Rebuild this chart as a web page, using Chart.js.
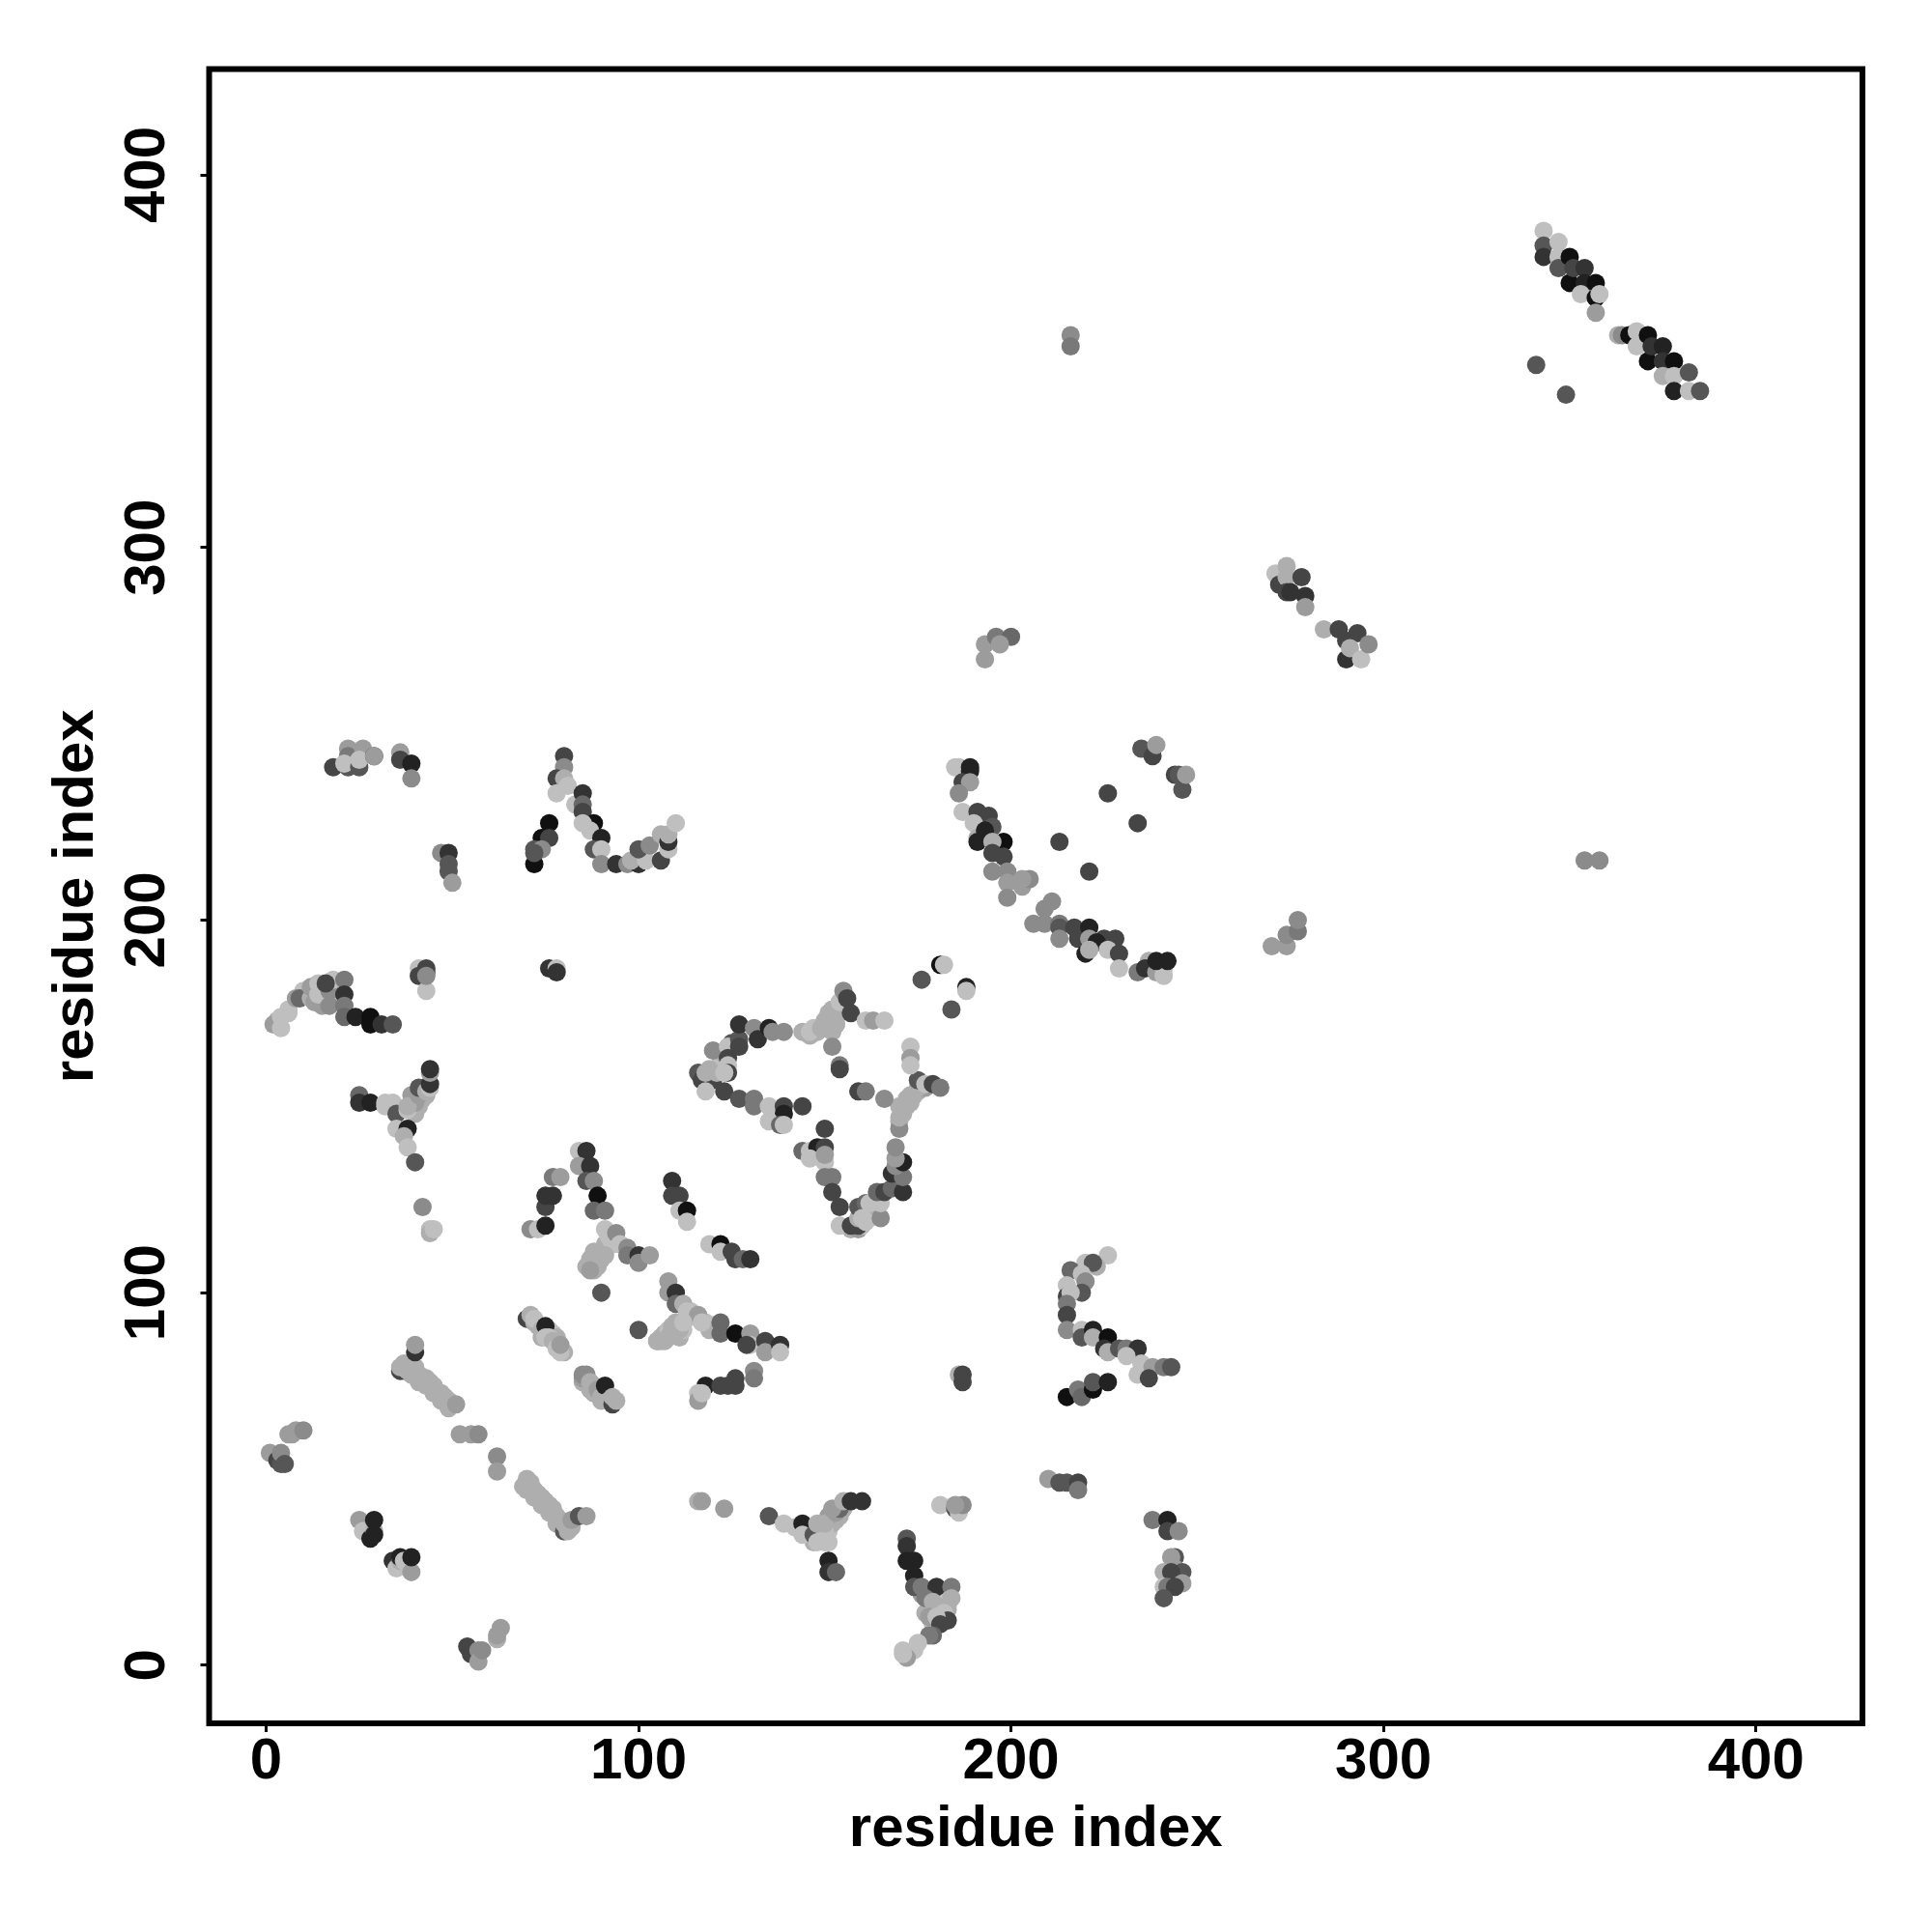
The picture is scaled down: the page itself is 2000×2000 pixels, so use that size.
<!DOCTYPE html>
<html>
<head>
<meta charset="utf-8">
<style>
  html, body { margin: 0; background: #fff; }
  canvas { display: block; }
</style>
<script src="https://cdn.jsdelivr.net/npm/chart.js@4/dist/chart.umd.min.js"></script>
</head>
<body>
<canvas id="contactChart" width="2000" height="2000"></canvas>
<script>
const xTicks = [0, 100, 200, 300, 400];
const yTicks = [0, 100, 200, 300, 400];
const axisTitle = 'residue index';

// one line per blob of contacts, the three lists line up entry by entry
const residueX = [
  37,39,41,43,45,47,49,
  71,72,74,76,78,80,81,69,70,
  73,74,76,77,78,80,79,85,87,88,90,
  105,106,107,108,109,110,111,112,113,114,115,118,120,119,
  86,87,88,89,90,91,92,93,88,91,
  11,13,15,15,19,18,19,10,6,3,
  39,40,41,42,43,39,
  118,119,120,121,122,123,125,126,
  170,171,172,173,174,175,176,177,
  157,158,159,160,162,163,164,
  146,148,150,151,152,153,154,152,153,
  148,149,150,151,152,153,154,155,147,150,
  176,178,180,181,182,183,180,178,177,179,
  1,3,4,4,5,6,7,8,10,
  25,26,28,29,29,29,34,35,36,36,37,39,39,
  36,36,37,38,39,40,41,42,43,44,45,46,47,48,49,50,51,40,40,
  52,55,57,62,62,
  70,71,72,73,74,75,76,77,78,79,80,80,81,82,82,84,86,
  54,55,57,57,62,62,63,58,
  70,71,72,72,74,75,75,76,77,78,79,85,85,86,87,88,89,90,91,92,93,94,93,
  90,100,
  108,108,110,110,112,113,116,117,109,106,108,111,112,105,107,
  122,122,126,130,130,129,134,134,138,138,
  118,116,116,117,122,124,126,126,131,131,
  186,187,187,
  226,223,220,216,222,219,220,219,215,215,216,215,215,215,219,219,222,222,226,225,226,229,231,234,231,235,234,238,237,241,243,
  215,218,219,222,222,226,
  116,117,123,
  135,139,142,144,144,147,148,151,150,151,150,148,153,154,152,155,157,160,151,151,153,
  181,185,186,187,185,
  172,172,172,174,174,174,176,180,184,184,177,179,183,182,183,178,180,181,179,178,175,174,171,172,171,
  210,213,215,218,218,
  238,242,242,245,244,243,244,246,241,243,241,246,242,244,241,
  2,4,4,6,8,9,12,13,12,14,14,17,17,18,16,21,21,21,21,
  24,28,28,31,34,
  41,43,43,41,43,43,
  76,78,78,
  25,25,28,32,34,32,35,38,35,38,37,38,40,
  42,44,44,45,
  39,40,38,41,41,43,44,44,44,44,
  71,73,75,75,75,77,77,79,84,86,84,87,86,88,89,88,91,
  91,94,88,87,89,90,87,95,97,97,100,100,103,
  109,109,111,111,113,113,119,122,122,125,126,128,130,
  116,117,118,119,120,118,124,124,124,124,123,127,127,127,131,132,135,136,139,
  123,127,131,131,135,139,139,135,138,139,144,
  150,144,146,148,150,146,150,150,150,152,152,154,154,157,159,159,159,161,162,160,161,165,165,164,166,168,171,168,171,169,171,169,169,
  170,170,170,172,173,175,175,177,179,181,166,159,161,
  173,173,173,152,154,154,
  144,146,147,149,150,151,152,153,154,155,156,157,161,163,166,
  181,182,176,184,188,188,
  18,22,22,22,21,25,26,25,29,29,
  36,36,39,39,
  47,49,49,49,50,
  76,74,76,72,74,72,72,
  80,80,78,80,78,81,83,85,85,85,88,85,87,90,88,90,90,
  94,97,100,98,102,100,103,106,108,106,108,108,110,
  185,186,189,189,187,189,186,187,
  191,194,190,195,191,191,198,193,195,195,198,195,199,199,199,203,205,203,
  206,209,211,209,213,213,213,217,218,221,220,221,225,228,223,221,226,229,
  229,234,237,236,239,241,241,239,242,
  213,221,226,234,
  235,238,239,244,245,246,247,
  270,274,274,277,277,
  271,272,274,274,274,278,279,279,275,
  284,288,290,290,293,291,294,296,
  193,193,196,200,197,
  216,216,354,358,
  343,343,343,347,347,347,350,350,351,354,354,353,357,357,358,357,
  341,349,
  363,364,366,368,368,371,371,372,375,375,375,378,378,382,378,382,385
];
const residueY = [
  79,78,76,75,73,71,69,
  49,45,43,41,38,36,38,48,47,
  91,88,90,89,88,84,84,76,74,73,71,
  87,88,89,90,91,92,88,90,93,95,94,92,91,90,
  107,109,109,107,111,113,115,113,106,110,
  180,178,180,177,178,180,182,181,176,173,
  149,148,150,152,153,151,
  156,158,157,159,162,164,167,166,
  146,148,150,151,153,154,155,155,
  117,118,117,118,120,122,123,
  169,170,171,172,173,174,175,170,172,
  35,36,37,36,38,39,40,42,33,33,
  19,19,17,16,18,15,15,15,14,11,
  57,55,54,57,54,62,62,63,63,
  39,36,34,36,35,39,28,26,28,29,28,25,29,
  79,80,81,79,80,80,78,77,77,76,75,73,73,72,71,70,70,84,86,
  62,62,62,56,52,
  50,48,47,46,45,44,43,42,40,39,36,38,36,37,39,40,40,
  5,3,4,1,7,8,10,4,
  93,94,92,93,90,91,88,88,87,85,86,77,78,78,76,75,74,72,75,71,70,71,72,
  100,90,
  103,100,100,97,97,95,94,92,90,87,88,90,92,87,87,
  92,89,89,89,86,86,87,84,86,84,
  75,73,71,73,75,75,77,75,79,77,
  78,78,76,
  110,107,108,106,108,105,103,100,102,99,100,97,94,90,90,88,90,88,88,85,84,85,85,85,83,81,78,80,77,80,80,
  72,74,72,74,76,76,
  44,44,42,
  40,38,37,38,35,35,33,33,36,40,38,38,41,42,42,44,44,44,28,25,25,
  43,42,41,43,43,
  34,32,28,28,24,21,21,21,21,18,18,17,16,14,12,13,13,11,8,8,6,4,4,2,3,
  50,49,49,49,47,
  39,39,36,36,29,29,26,25,25,25,21,22,21,21,18,
  172,171,174,175,179,179,179,178,182,183,180,177,181,184,183,184,180,177,174,
  174,174,172,172,172,
  187,187,186,185,181,185,
  187,187,186,
  153,151,151,151,151,150,148,149,144,144,142,139,135,
  123,117,116,117,
  153,151,150,153,155,154,155,156,159,160,
  117,117,118,123,126,126,131,131,138,138,134,134,130,130,126,122,122,
  117,116,111,108,109,109,106,113,112,110,110,108,110,
  130,126,126,122,122,119,113,113,111,111,109,109,109,
  159,157,159,160,165,154,166,163,161,159,159,168,172,166,171,168,171,170,170,
  154,152,152,150,150,150,148,146,145,145,150,
  144,138,138,139,139,136,135,137,131,131,127,123,118,118,118,120,123,124,124,120,119,120,124,127,127,128,127,132,131,134,135,136,139,
  144,147,150,152,153,155,157,156,156,155,152,154,154,
  166,163,161,166,161,160,
  170,170,171,171,173,175,176,172,178,181,179,175,173,173,173,
  188,188,184,176,182,181,
  241,241,246,244,242,241,246,243,244,244,
  245,243,242,238,
  218,218,215,213,210,
  226,222,222,219,219,215,218,
  244,241,238,238,234,236,231,234,231,229,226,226,224,222,219,219,215,
  215,215,215,216,216,219,220,216,219,223,221,223,226,
  241,241,241,240,237,237,234,229,
  229,228,226,225,222,221,221,224,221,218,217,213,213,210,206,209,211,211,
  199,203,205,199,199,198,195,198,195,198,191,195,195,195,194,192,192,191,
  187,186,189,187,186,185,187,189,189,
  221,213,234,226,
  246,244,247,239,239,235,239,
  193,193,196,197,200,
  293,290,295,292,288,292,287,284,288,
  278,278,275,270,277,273,270,274,
  270,274,276,276,274,
  357,354,216,216,
  385,381,378,382,378,375,378,371,375,375,371,368,371,367,368,363,
  349,341,
  357,357,357,358,354,357,350,354,354,350,346,350,346,347,342,342,342
];
const contactScore = [
  9,9,9,9,9,9,9,
  9,9,9,9,9,9,9,9,9,
  9,9,10,10,9,9,10,9,9,9,9,
  9,9,9,10,9,9,9,10,10,10,9,10,10,9,
  9,9,9,9,9,9,10,10,9,9,
  8,9,9,8,9,10,9,10,10,9,
  9,9,9,9,9,9,
  9,9,3,9,10,9,4,5,
  9,9,9,9,9,9,9,8,
  9,10,8,10,9,10,9,
  9,9,9,9,9,9,9,9,9,
  9,9,9,10,9,9,9,9,9,10,
  8,9,9,10,10,9,10,9,9,10,
  8,3,4,7,4,8,8,8,7,
  8,10,1,9,1,1,2,10,9,1,10,8,1,
  3,9,9,9,9,9,9,9,9,9,9,9,9,9,9,9,8,2,8,
  8,8,7,7,8,
  9,9,9,9,9,9,9,9,9,9,4,9,9,9,8,4,8,
  3,3,7,8,9,8,8,7,
  3,9,9,10,9,1,10,10,9,10,8,8,7,7,9,9,8,9,1,9,3,9,9,
  4,4,
  8,8,2,5,9,10,8,10,9,9,9,9,10,9,9,
  5,5,0,8,10,3,3,8,2,10,
  1,10,8,10,3,3,3,3,7,6,
  9,3,3,
  10,9,10,5,4,10,7,4,10,3,10,6,3,7,10,4,1,9,0,2,9,4,6,2,10,10,10,8,3,6,4,
  0,6,5,0,4,1,
  9,8,8,
  4,10,10,1,10,4,10,10,10,8,9,9,8,5,8,9,2,2,1,2,5,
  10,4,10,7,8,
  4,2,1,1,1,4,6,2,6,9,6,9,9,10,3,8,10,3,5,6,10,10,10,8,10,
  8,4,4,3,6,
  6,1,3,7,4,8,8,4,9,3,10,8,6,3,4,
  8,10,10,10,8,5,9,8,8,10,10,7,7,10,3,6,2,6,5,
  1,0,0,2,4,
  10,3,3,3,10,7,
  2,10,2,
  5,2,1,10,10,10,4,10,10,1,9,10,4,
  7,10,9,10,
  8,8,9,8,4,9,10,2,8,2,
  7,10,1,3,2,2,6,8,10,2,8,2,4,7,0,5,6,
  10,7,9,9,9,9,8,10,7,6,2,7,8,
  2,3,3,10,0,10,10,0,10,3,3,5,2,
  4,3,9,9,7,10,10,3,10,3,10,4,2,3,7,2,1,7,7,
  3,4,6,6,10,3,1,10,5,10,3,
  3,5,10,1,3,10,10,8,6,6,3,3,10,3,3,9,4,5,10,10,10,7,10,5,3,5,2,2,6,7,1,8,7,
  7,9,9,9,9,9,4,10,3,6,7,3,6,
  10,8,10,7,6,3,
  9,10,10,9,9,9,9,9,10,7,3,3,10,8,10,
  0,10,4,4,1,10,
  3,4,8,6,10,4,8,10,3,8,
  8,3,1,7,
  7,2,4,4,8,
  0,0,3,4,7,0,4,
  3,7,3,9,10,10,10,2,5,3,0,10,10,1,4,10,7,
  2,7,2,9,10,4,7,3,10,9,2,9,10,
  10,10,1,1,3,8,7,10,
  3,3,10,4,9,1,0,1,9,3,3,7,7,8,7,8,7,8,
  7,7,7,7,6,4,7,3,3,1,1,8,3,3,1,9,10,3,
  10,6,9,2,8,10,10,1,1,
  3,3,3,3,
  4,3,8,3,4,4,8,
  8,8,7,6,7,
  10,3,9,9,3,3,2,8,2,
  9,3,3,2,3,9,10,7,
  8,8,6,5,8,
  7,6,7,7,
  10,4,2,10,10,4,0,0,3,2,1,10,0,0,10,8,
  4,4,
  9,7,0,10,10,0,0,2,1,2,9,0,10,4,1,10,4
];

// darker = lower score
function scoreColor(score) {
  const g = 16 + score * 17.5;
  return `rgb(${g}, ${g}, ${g})`;
}

const points = residueX.map((x, i) => ({ x: x, y: residueY[i] }));
console.log(residueX.length, residueY.length, contactScore.length);

const frame = {
  id: 'frame',
  afterDraw(chart) {
    const { ctx, chartArea, scales } = chart;
    ctx.save();
    ctx.strokeStyle = '#000';
    ctx.lineWidth = 6;
    ctx.strokeRect(chartArea.left, chartArea.top, chartArea.width, chartArea.height);
    // R-style upright y labels, Chart.js cannot rotate these itself
    ctx.fillStyle = '#000';
    ctx.font = 'bold 60px "Liberation Sans"';
    ctx.textAlign = 'center';
    ctx.textBaseline = 'alphabetic';
    yTicks.forEach(v => {
      ctx.save();
      ctx.translate(170, scales.y.getPixelForValue(v));
      ctx.rotate(-Math.PI / 2);
      ctx.fillText(String(v), 0, 0);
      ctx.restore();
    });
    ctx.restore();
  }
};

new Chart(document.getElementById('contactChart'), {
  type: 'scatter',
  plugins: [frame],
  data: {
    datasets: [{
      data: points,
      pointBackgroundColor: contactScore.map(scoreColor),
      pointBorderWidth: 0,
      pointRadius: 9.5
    }]
  },
  options: {
    responsive: false,
    animation: false,
    layout: { padding: { top: 71.5, right: 72 } },
    plugins: { legend: { display: false }, tooltip: { enabled: false } },
    scales: {
      x: {
        min: -15.3,
        max: 428.6,
        afterBuildTicks: axis => { axis.ticks = xTicks.map(v => ({ value: v })); },
        afterFit: axis => { axis.height = 216; },
        border: { display: false },
        grid: { drawOnChartArea: false, tickLength: 9, tickWidth: 3, tickColor: '#000' },
        ticks: {
          color: '#000',
          padding: -5,
          maxRotation: 0,
          autoSkip: false,
          font: { family: 'Liberation Sans', weight: 'bold', size: 60 }
        },
        title: {
          display: true,
          text: axisTitle,
          color: '#000',
          padding: { top: 0, bottom: 70 },
          font: { family: 'Liberation Sans', weight: 'bold', size: 60 }
        }
      },
      y: {
        min: -15.6,
        max: 428.4,
        afterBuildTicks: axis => { axis.ticks = yTicks.map(v => ({ value: v })); },
        afterFit: axis => { axis.width = 216.5; },
        border: { display: false },
        grid: { drawOnChartArea: false, tickLength: 9, tickWidth: 3, tickColor: '#000' },
        ticks: { display: false },
        title: {
          display: true,
          text: axisTitle,
          color: '#000',
          padding: { top: 43, bottom: 0 },
          font: { family: 'Liberation Sans', weight: 'bold', size: 60 }
        }
      }
    }
  }
});
</script>
</body>
</html>
